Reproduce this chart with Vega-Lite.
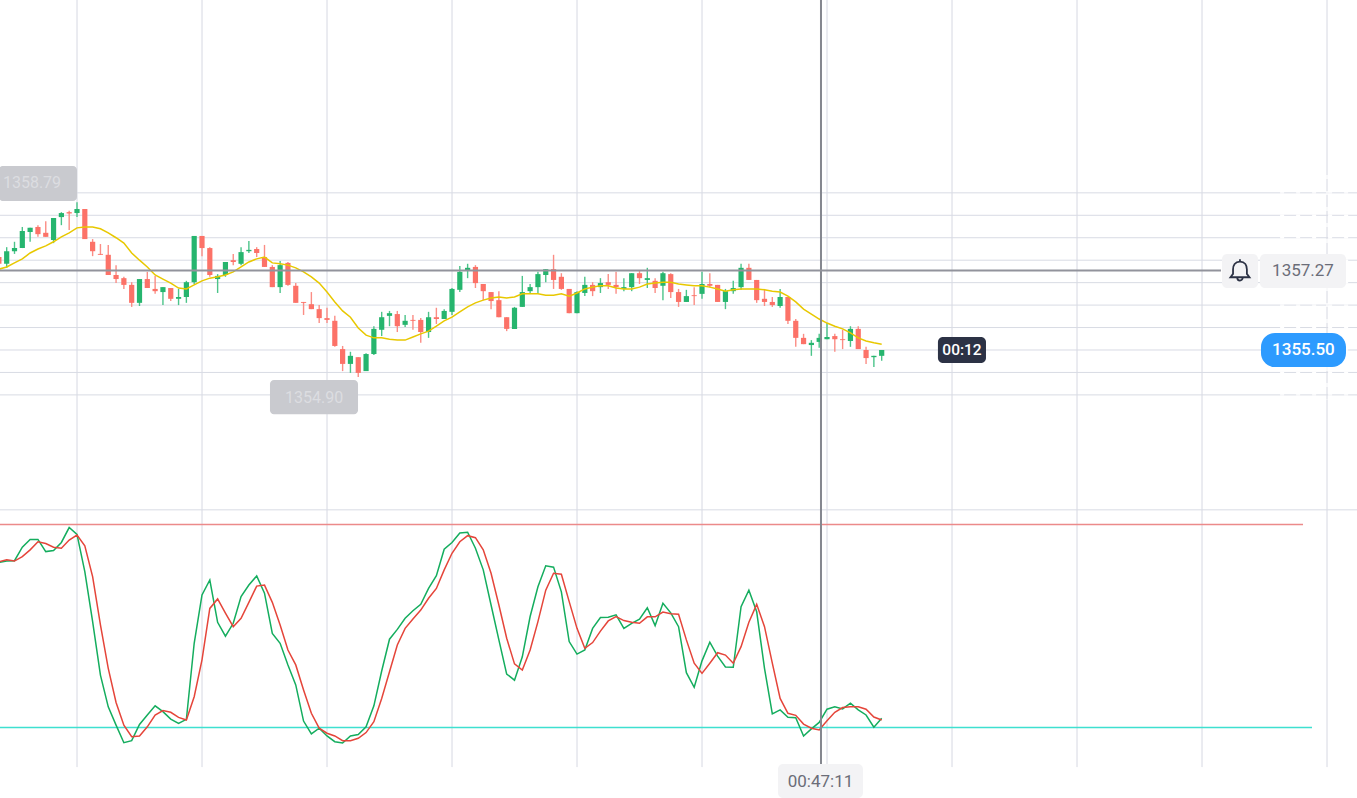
{"$schema":"https://vega.github.io/schema/vega-lite/v6.json","width":1357,"height":798,"autosize":{"type":"none"},"padding":0,"background":"#ffffff","config":{"view":{"stroke":null},"axis":{"disable":true},"scale":{"continuousPadding":0}},"datasets":{"candles":[
{"i":-10,"o":1357.57,"h":1357.6,"l":1357.39,"c":1357.42,"ma":1357.30,"k":68.8,"d":69},
{"i":-9,"o":1357.42,"h":1357.79,"l":1357.33,"c":1357.70,"ma":1357.35,"k":69.2,"d":69.6},
{"i":-8,"o":1357.70,"h":1357.91,"l":1357.64,"c":1357.77,"ma":1357.44,"k":69.3,"d":69.2},
{"i":-7,"o":1357.77,"h":1358.24,"l":1357.77,"c":1358.15,"ma":1357.53,"k":73.3,"d":70.5},
{"i":-6,"o":1358.13,"h":1358.22,"l":1357.91,"c":1358.22,"ma":1357.66,"k":75.6,"d":72.5},
{"i":-5,"o":1358.24,"h":1358.28,"l":1358.02,"c":1358.08,"ma":1357.75,"k":75.6,"d":74.9},
{"i":-4,"o":1358.11,"h":1358.37,"l":1358.02,"c":1358.02,"ma":1357.82,"k":72,"d":74.4},
{"i":-3,"o":1357.95,"h":1358.44,"l":1357.88,"c":1358.44,"ma":1357.91,"k":72.3,"d":73.3},
{"i":-2,"o":1358.46,"h":1358.57,"l":1358.28,"c":1358.55,"ma":1358.02,"k":74.7,"d":73},
{"i":-1,"o":1358.57,"h":1358.60,"l":1358.17,"c":1358.54,"ma":1358.11,"k":79.1,"d":75.4},
{"i":0,"o":1358.55,"h":1358.79,"l":1358.46,"c":1358.64,"ma":1358.22,"k":77.1,"d":76.9},
{"i":1,"o":1358.64,"h":1358.64,"l":1357.97,"c":1357.97,"ma":1358.24,"k":66.1,"d":73.7},
{"i":2,"o":1357.91,"h":1357.97,"l":1357.59,"c":1357.70,"ma":1358.24,"k":51.3,"d":64.6},
{"i":3,"o":1357.64,"h":1357.86,"l":1357.62,"c":1357.62,"ma":1358.20,"k":35.5,"d":50.3},
{"i":4,"o":1357.62,"h":1357.84,"l":1357.17,"c":1357.17,"ma":1358.11,"k":26.1,"d":37.5},
{"i":5,"o":1357.17,"h":1357.39,"l":1356.99,"c":1357.08,"ma":1358.00,"k":20.7,"d":27.4},
{"i":6,"o":1357.10,"h":1357.13,"l":1356.86,"c":1356.95,"ma":1357.88,"k":15.5,"d":20.7},
{"i":7,"o":1356.95,"h":1357.01,"l":1356.46,"c":1356.55,"ma":1357.66,"k":16.1,"d":17.3},
{"i":8,"o":1356.55,"h":1357.08,"l":1356.48,"c":1357.08,"ma":1357.50,"k":20.9,"d":17.5},
{"i":9,"o":1357.08,"h":1357.24,"l":1356.88,"c":1356.88,"ma":1357.35,"k":23.7,"d":20.2},
{"i":10,"o":1356.86,"h":1357.15,"l":1356.75,"c":1356.81,"ma":1357.17,"k":26.4,"d":23.7},
{"i":11,"o":1356.79,"h":1356.90,"l":1356.50,"c":1356.90,"ma":1357.08,"k":24.7,"d":25},
{"i":12,"o":1356.88,"h":1356.88,"l":1356.59,"c":1356.64,"ma":1356.99,"k":22.5,"d":24.5},
{"i":13,"o":1356.64,"h":1356.86,"l":1356.50,"c":1356.68,"ma":1356.88,"k":21.2,"d":23},
{"i":14,"o":1356.68,"h":1357.04,"l":1356.55,"c":1357.01,"ma":1356.86,"k":22.4,"d":22.2},
{"i":15,"o":1357.01,"h":1358.04,"l":1356.97,"c":1358.04,"ma":1356.95,"k":44.9,"d":29.1},
{"i":16,"o":1358.04,"h":1358.04,"l":1357.59,"c":1357.77,"ma":1357.04,"k":59.2,"d":40},
{"i":17,"o":1357.77,"h":1357.79,"l":1357.13,"c":1357.17,"ma":1357.10,"k":63.6,"d":55.2},
{"i":18,"o":1357.08,"h":1357.19,"l":1356.77,"c":1357.15,"ma":1357.13,"k":51.1,"d":58},
{"i":19,"o":1357.17,"h":1357.46,"l":1357.13,"c":1357.46,"ma":1357.17,"k":47,"d":53.8},
{"i":20,"o":1357.50,"h":1357.64,"l":1357.39,"c":1357.46,"ma":1357.24,"k":50.8,"d":49.8},
{"i":21,"o":1357.42,"h":1357.79,"l":1357.39,"c":1357.68,"ma":1357.35,"k":58.7,"d":52.3},
{"i":22,"o":1357.70,"h":1357.93,"l":1357.66,"c":1357.73,"ma":1357.46,"k":62.1,"d":57},
{"i":23,"o":1357.75,"h":1357.79,"l":1357.57,"c":1357.66,"ma":1357.53,"k":64.8,"d":61.8},
{"i":24,"o":1357.57,"h":1357.84,"l":1357.35,"c":1357.35,"ma":1357.57,"k":59.7,"d":62.1},
{"i":25,"o":1357.35,"h":1357.39,"l":1356.90,"c":1356.90,"ma":1357.44,"k":47.8,"d":57},
{"i":26,"o":1356.90,"h":1357.48,"l":1356.77,"c":1357.39,"ma":1357.42,"k":44.9,"d":50.3},
{"i":27,"o":1357.44,"h":1357.46,"l":1356.93,"c":1356.95,"ma":1357.39,"k":38.5,"d":42.9},
{"i":28,"o":1356.93,"h":1356.99,"l":1356.55,"c":1356.55,"ma":1357.33,"k":32.6,"d":38.5},
{"i":29,"o":1356.57,"h":1356.57,"l":1356.28,"c":1356.55,"ma":1357.24,"k":21.9,"d":31.1},
{"i":30,"o":1356.52,"h":1356.79,"l":1356.41,"c":1356.41,"ma":1357.13,"k":18.1,"d":24.2},
{"i":31,"o":1356.41,"h":1356.50,"l":1356.10,"c":1356.21,"ma":1356.99,"k":19.8,"d":19.8},
{"i":32,"o":1356.21,"h":1356.44,"l":1356.10,"c":1356.17,"ma":1356.79,"k":17.5,"d":18.3},
{"i":33,"o":1356.15,"h":1356.26,"l":1355.57,"c":1355.59,"ma":1356.57,"k":15.8,"d":17.5},
{"i":34,"o":1355.52,"h":1355.59,"l":1355.03,"c":1355.19,"ma":1356.37,"k":15.4,"d":16.1},
{"i":35,"o":1355.19,"h":1355.46,"l":1354.99,"c":1355.37,"ma":1356.23,"k":17.5,"d":16.1},
{"i":36,"o":1355.34,"h":1355.34,"l":1354.90,"c":1354.99,"ma":1355.99,"k":17.9,"d":16.8},
{"i":37,"o":1355.03,"h":1355.43,"l":1355.03,"c":1355.41,"ma":1355.83,"k":20.2,"d":18.5},
{"i":38,"o":1355.41,"h":1356.03,"l":1355.39,"c":1355.97,"ma":1355.77,"k":26.4,"d":21.7},
{"i":39,"o":1355.95,"h":1356.35,"l":1355.81,"c":1356.23,"ma":1355.77,"k":36.7,"d":28.6},
{"i":40,"o":1356.26,"h":1356.37,"l":1356.03,"c":1356.32,"ma":1355.74,"k":46.1,"d":36.5},
{"i":41,"o":1356.30,"h":1356.37,"l":1355.90,"c":1356.03,"ma":1355.72,"k":49,"d":44.4},
{"i":42,"o":1356.06,"h":1356.28,"l":1356.01,"c":1356.15,"ma":1355.72,"k":52.3,"d":49.3},
{"i":43,"o":1356.17,"h":1356.28,"l":1355.95,"c":1356.15,"ma":1355.79,"k":54.5,"d":52.1},
{"i":44,"o":1356.17,"h":1356.21,"l":1355.66,"c":1355.90,"ma":1355.86,"k":56.4,"d":54.7},
{"i":45,"o":1355.90,"h":1356.35,"l":1355.77,"c":1356.23,"ma":1355.92,"k":61.1,"d":58.2},
{"i":46,"o":1356.23,"h":1356.44,"l":1356.08,"c":1356.19,"ma":1356.03,"k":64.9,"d":61.1},
{"i":47,"o":1356.19,"h":1356.41,"l":1356.19,"c":1356.37,"ma":1356.15,"k":72.7,"d":66.6},
{"i":48,"o":1356.35,"h":1356.88,"l":1356.28,"c":1356.86,"ma":1356.23,"k":74.7,"d":71.5},
{"i":49,"o":1356.84,"h":1357.37,"l":1356.79,"c":1357.24,"ma":1356.35,"k":77.5,"d":74.9},
{"i":50,"o":1357.26,"h":1357.42,"l":1357.10,"c":1357.33,"ma":1356.46,"k":77.7,"d":76.7},
{"i":51,"o":1357.35,"h":1357.39,"l":1356.88,"c":1356.99,"ma":1356.55,"k":73,"d":76.1},
{"i":52,"o":1356.97,"h":1356.97,"l":1356.61,"c":1356.81,"ma":1356.61,"k":66.6,"d":72.5},
{"i":53,"o":1356.79,"h":1356.79,"l":1356.41,"c":1356.59,"ma":1356.66,"k":56.2,"d":65.6},
{"i":54,"o":1356.61,"h":1356.81,"l":1356.23,"c":1356.23,"ma":1356.68,"k":45.9,"d":56.2},
{"i":55,"o":1356.23,"h":1356.23,"l":1355.92,"c":1355.97,"ma":1356.66,"k":35.8,"d":46.4},
{"i":56,"o":1355.97,"h":1356.46,"l":1355.97,"c":1356.44,"ma":1356.68,"k":34,"d":38.8},
{"i":57,"o":1356.46,"h":1357.15,"l":1356.46,"c":1356.79,"ma":1356.75,"k":40.9,"d":37},
{"i":58,"o":1356.81,"h":1356.97,"l":1356.75,"c":1356.90,"ma":1356.75,"k":52.8,"d":42.9},
{"i":59,"o":1356.90,"h":1357.24,"l":1356.75,"c":1357.19,"ma":1356.75,"k":61.6,"d":51.3},
{"i":60,"o":1357.17,"h":1357.30,"l":1357.01,"c":1357.30,"ma":1356.72,"k":67.8,"d":60.6},
{"i":61,"o":1357.30,"h":1357.62,"l":1356.86,"c":1357.06,"ma":1356.72,"k":67.4,"d":65.6},
{"i":62,"o":1357.13,"h":1357.21,"l":1356.84,"c":1356.86,"ma":1356.75,"k":60.1,"d":65.3},
{"i":63,"o":1356.86,"h":1356.86,"l":1356.32,"c":1356.32,"ma":1356.70,"k":45.4,"d":57.2},
{"i":64,"o":1356.32,"h":1356.81,"l":1356.32,"c":1356.79,"ma":1356.77,"k":41.7,"d":49.3},
{"i":65,"o":1356.77,"h":1357.13,"l":1356.70,"c":1356.95,"ma":1356.86,"k":42.9,"d":43.4},
{"i":66,"o":1356.95,"h":1357.01,"l":1356.70,"c":1356.81,"ma":1356.90,"k":49.3,"d":45.1},
{"i":67,"o":1356.90,"h":1357.10,"l":1356.77,"c":1356.99,"ma":1356.93,"k":52.5,"d":48.5},
{"i":68,"o":1357.01,"h":1357.19,"l":1356.86,"c":1356.95,"ma":1356.93,"k":52.6,"d":51.5},
{"i":69,"o":1356.95,"h":1357.24,"l":1356.75,"c":1356.90,"ma":1356.88,"k":53.3,"d":52.8},
{"i":70,"o":1356.86,"h":1357.10,"l":1356.81,"c":1356.90,"ma":1356.86,"k":49.3,"d":51.6},
{"i":71,"o":1356.90,"h":1357.21,"l":1356.81,"c":1357.21,"ma":1356.86,"k":50.8,"d":51.1},
{"i":72,"o":1357.21,"h":1357.28,"l":1356.97,"c":1357.10,"ma":1356.90,"k":52,"d":50.8},
{"i":73,"o":1357.06,"h":1357.33,"l":1356.88,"c":1357.10,"ma":1356.97,"k":55.4,"d":52.7},
{"i":74,"o":1357.04,"h":1357.10,"l":1356.77,"c":1356.88,"ma":1356.99,"k":50.1,"d":52.7},
{"i":75,"o":1356.93,"h":1357.24,"l":1356.61,"c":1357.21,"ma":1357.01,"k":56.7,"d":54.1},
{"i":76,"o":1357.19,"h":1357.21,"l":1356.66,"c":1356.79,"ma":1357.01,"k":53.9,"d":53.6},
{"i":77,"o":1356.79,"h":1356.86,"l":1356.46,"c":1356.57,"ma":1356.97,"k":49.8,"d":53.5},
{"i":78,"o":1356.57,"h":1356.84,"l":1356.57,"c":1356.70,"ma":1356.95,"k":36.2,"d":45.9},
{"i":79,"o":1356.72,"h":1356.90,"l":1356.50,"c":1356.70,"ma":1356.93,"k":31.9,"d":39},
{"i":80,"o":1356.75,"h":1357.24,"l":1356.64,"c":1356.97,"ma":1356.93,"k":39.7,"d":36},
{"i":81,"o":1356.97,"h":1357.21,"l":1356.90,"c":1356.93,"ma":1356.90,"k":45.2,"d":39},
{"i":82,"o":1356.95,"h":1356.95,"l":1356.57,"c":1356.57,"ma":1356.86,"k":41.1,"d":42.1},
{"i":83,"o":1356.57,"h":1356.86,"l":1356.41,"c":1356.81,"ma":1356.81,"k":37.9,"d":41.4},
{"i":84,"o":1356.81,"h":1357.04,"l":1356.75,"c":1356.88,"ma":1356.84,"k":37.8,"d":39},
{"i":85,"o":1356.90,"h":1357.42,"l":1356.84,"c":1357.33,"ma":1356.86,"k":55.7,"d":43.9},
{"i":86,"o":1357.33,"h":1357.42,"l":1357.06,"c":1357.06,"ma":1356.86,"k":60.6,"d":51.1},
{"i":87,"o":1357.06,"h":1357.06,"l":1356.55,"c":1356.61,"ma":1356.86,"k":54.2,"d":56.4},
{"i":88,"o":1356.64,"h":1356.86,"l":1356.48,"c":1356.57,"ma":1356.84,"k":37.5,"d":49.8},
{"i":89,"o":1356.57,"h":1356.68,"l":1356.46,"c":1356.50,"ma":1356.81,"k":24,"d":39},
{"i":90,"o":1356.48,"h":1356.86,"l":1356.44,"c":1356.68,"ma":1356.79,"k":25.2,"d":28.6},
{"i":91,"o":1356.68,"h":1356.68,"l":1356.08,"c":1356.15,"ma":1356.70,"k":23,"d":24.2},
{"i":92,"o":1356.15,"h":1356.19,"l":1355.57,"c":1355.77,"ma":1356.57,"k":22.9,"d":23.6},
{"i":93,"o":1355.77,"h":1355.86,"l":1355.63,"c":1355.63,"ma":1356.41,"k":17.5,"d":21},
{"i":94,"o":1355.61,"h":1355.72,"l":1355.37,"c":1355.66,"ma":1356.30,"k":19.6,"d":19.8},
{"i":95,"o":1355.68,"h":1355.86,"l":1355.55,"c":1355.77,"ma":1356.19,"k":21.5,"d":19.3},
{"i":96,"o":1355.74,"h":1356.10,"l":1355.74,"c":1355.79,"ma":1356.10,"k":25.4,"d":22},
{"i":97,"o":1355.81,"h":1355.86,"l":1355.46,"c":1355.74,"ma":1356.03,"k":26.1,"d":24.5},
{"i":98,"o":1355.74,"h":1355.95,"l":1355.52,"c":1355.72,"ma":1355.97,"k":25.5,"d":25.9},
{"i":99,"o":1355.70,"h":1356.03,"l":1355.57,"c":1355.97,"ma":1355.88,"k":27.2,"d":26.1},
{"i":100,"o":1355.97,"h":1356.03,"l":1355.52,"c":1355.52,"ma":1355.77,"k":25.2,"d":26.1},
{"i":101,"o":1355.50,"h":1355.57,"l":1355.19,"c":1355.32,"ma":1355.70,"k":23.7,"d":25.4},
{"i":102,"o":1355.34,"h":1355.37,"l":1355.12,"c":1355.37,"ma":1355.66,"k":20.1,"d":23.1},
{"i":103,"o":1355.37,"h":1355.50,"l":1355.26,"c":1355.50,"ma":1355.63,"k":22.7,"d":22.2}
],"gridX":[{"i":0},{"i":16},{"i":32},{"i":48},{"i":64},{"i":80},{"i":96},{"i":112},{"i":128},{"i":144},{"i":160}],
"gridY":[{"p":1354.5},{"p":1355},{"p":1355.5},{"p":1356},{"p":1356.5},{"p":1357},{"p":1357.5},{"p":1358},{"p":1358.5},{"p":1359}]},
"resolve":{"scale":{"y":"independent"}},
"layer":[
{"data":{"name":"gridX"},"mark":{"type":"rule","color":"#d6d8e2","strokeWidth":1},"encoding":{"x":{"field":"i","type":"quantitative","scale":{"domain":[-9.856,163.84],"nice":false,"zero":false}},"y":{"datum":1363.295,"type":"quantitative","scale":{"domain":[1345.522,1363.295],"nice":false,"zero":false}},"y2":{"datum":1346.21}}},
{"data":{"name":"gridY"},"mark":{"type":"rule","color":"#d8dbe4","strokeWidth":1},"encoding":{"y":{"field":"p","type":"quantitative","scale":{"domain":[1345.522,1363.295],"nice":false,"zero":false}}}},
{"data":{"name":"gridY"},"mark":{"type":"rule","color":"#ffffff","strokeWidth":1.4,"strokeDash":[4,12]},"encoding":{"x":{"datum":154,"type":"quantitative","scale":{"domain":[-9.856,163.84],"nice":false,"zero":false}},"x2":{"datum":163.84},"y":{"field":"p","type":"quantitative","scale":{"domain":[1345.522,1363.295],"nice":false,"zero":false}}}},
{"data":{"values":[{"t":160}]},"mark":{"type":"rule","color":"#ffffff","strokeWidth":1.4,"strokeDash":[4,12]},"encoding":{"x":{"field":"t","type":"quantitative","scale":{"domain":[-9.856,163.84],"nice":false,"zero":false}},"y":{"datum":1359.4,"type":"quantitative","scale":{"domain":[1345.522,1363.295],"nice":false,"zero":false}},"y2":{"datum":1354.4}}},
{"data":{"values":[{"p":1351.94}]},"mark":{"type":"rule","color":"#d8dbe4","strokeWidth":1},"encoding":{"y":{"field":"p","type":"quantitative","scale":{"domain":[1345.522,1363.295],"nice":false,"zero":false}}}},
{"data":{"values":[{"s":80}]},"mark":{"type":"rule","color":"#ec8a8a","strokeWidth":1.3},"encoding":{"x":{"datum":-9.856,"type":"quantitative","scale":{"domain":[-9.856,163.84],"nice":false,"zero":false}},"x2":{"datum":156.93},"y":{"field":"s","type":"quantitative","scale":{"domain":[-0.84,235.04],"nice":false,"zero":false}}}},
{"data":{"values":[{"s":20}]},"mark":{"type":"rule","color":"#3fe0d0","strokeWidth":1.5},"encoding":{"x":{"datum":-9.856,"type":"quantitative","scale":{"domain":[-9.856,163.84],"nice":false,"zero":false}},"x2":{"datum":158.08},"y":{"field":"s","type":"quantitative","scale":{"domain":[-0.84,235.04],"nice":false,"zero":false}}}},
{"data":{"name":"candles"},"mark":{"type":"rule","strokeWidth":1.4},"encoding":{"x":{"field":"i","type":"quantitative","scale":{"domain":[-9.856,163.84],"nice":false,"zero":false}},"y":{"field":"h","type":"quantitative","scale":{"domain":[1345.522,1363.295],"nice":false,"zero":false}},"y2":{"field":"l"},"color":{"condition":{"test":"datum.c>=datum.o","value":"#4cc48a"},"value":"#fb8d85"}}},
{"data":{"name":"candles"},"mark":{"type":"bar","size":5.2},"encoding":{"x":{"field":"i","type":"quantitative","scale":{"domain":[-9.856,163.84],"nice":false,"zero":false}},"y":{"field":"o","type":"quantitative","scale":{"domain":[1345.522,1363.295],"nice":false,"zero":false}},"y2":{"field":"c"},"color":{"condition":{"test":"datum.c>=datum.o","value":"#26b56e"},"value":"#fc7268"}}},
{"data":{"name":"candles"},"mark":{"type":"line","color":"#e8c800","strokeWidth":1.5},"encoding":{"x":{"field":"i","type":"quantitative","scale":{"domain":[-9.856,163.84],"nice":false,"zero":false}},"y":{"field":"ma","type":"quantitative","scale":{"domain":[1345.522,1363.295],"nice":false,"zero":false}}}},
{"data":{"name":"candles"},"mark":{"type":"line","color":"#14ad5e","strokeWidth":1.5},"encoding":{"x":{"field":"i","type":"quantitative","scale":{"domain":[-9.856,163.84],"nice":false,"zero":false}},"y":{"field":"k","type":"quantitative","scale":{"domain":[-0.84,235.04],"nice":false,"zero":false}}}},
{"data":{"name":"candles"},"mark":{"type":"line","color":"#e5453a","strokeWidth":1.5},"encoding":{"x":{"field":"i","type":"quantitative","scale":{"domain":[-9.856,163.84],"nice":false,"zero":false}},"y":{"field":"d","type":"quantitative","scale":{"domain":[-0.84,235.04],"nice":false,"zero":false}}}},
{"data":{"values":[{"t":95.23}]},"mark":{"type":"rule","color":"#85878f","strokeWidth":2},"encoding":{"x":{"field":"t","type":"quantitative","scale":{"domain":[-9.856,163.84],"nice":false,"zero":false}},"y":{"datum":1363.295,"type":"quantitative","scale":{"domain":[1345.522,1363.295],"nice":false,"zero":false}},"y2":{"datum":1346.21}}},
{"data":{"values":[{"p":1357.27}]},"mark":{"type":"rule","color":"#92939c","strokeWidth":2},"encoding":{"x":{"datum":-9.856,"type":"quantitative","scale":{"domain":[-9.856,163.84],"nice":false,"zero":false}},"x2":{"datum":146.43},"y":{"field":"p","type":"quantitative","scale":{"domain":[1345.522,1363.295],"nice":false,"zero":false}}}},
{"data":{"values":[{"a":-10,"b":0,"t":1359.6,"u":1358.82},{"a":24.7,"b":35.97,"t":1354.83,"u":1354.07}]},"mark":{"type":"rect","color":"#c9cacf","cornerRadius":4},"encoding":{"x":{"field":"a","type":"quantitative","scale":{"domain":[-9.856,163.84],"nice":false,"zero":false}},"x2":{"field":"b"},"y":{"field":"t","type":"quantitative","scale":{"domain":[1345.522,1363.295],"nice":false,"zero":false}},"y2":{"field":"u"}}},
{"data":{"values":[{"a":146.56,"b":151.17,"t":1357.64,"u":1356.88},{"a":151.42,"b":162.43,"t":1357.64,"u":1356.88},{"a":89.73,"b":100.6,"t":1346.28,"u":1345.52}]},"mark":{"type":"rect","color":"#f3f3f5","cornerRadius":5},"encoding":{"x":{"field":"a","type":"quantitative","scale":{"domain":[-9.856,163.84],"nice":false,"zero":false}},"x2":{"field":"b"},"y":{"field":"t","type":"quantitative","scale":{"domain":[1345.522,1363.295],"nice":false,"zero":false}},"y2":{"field":"u"}}},
{"data":{"values":[{"a":151.55,"b":162.43,"t":1355.88,"u":1355.12}]},"mark":{"type":"rect","color":"#2d9bff","cornerRadius":14},"encoding":{"x":{"field":"a","type":"quantitative","scale":{"domain":[-9.856,163.84],"nice":false,"zero":false}},"x2":{"field":"b"},"y":{"field":"t","type":"quantitative","scale":{"domain":[1345.522,1363.295],"nice":false,"zero":false}},"y2":{"field":"u"}}},
{"data":{"values":[{"a":110.2,"b":116.35,"t":1355.79,"u":1355.21}]},"mark":{"type":"rect","color":"#2c3245","cornerRadius":5},"encoding":{"x":{"field":"a","type":"quantitative","scale":{"domain":[-9.856,163.84],"nice":false,"zero":false}},"x2":{"field":"b"},"y":{"field":"t","type":"quantitative","scale":{"domain":[1345.522,1363.295],"nice":false,"zero":false}},"y2":{"field":"u"}}},
{"data":{"values":[{"x":148.86,"p":1357.27}]},"mark":{"type":"point","shape":"M0,-1 L0,-0.8 C-0.45,-0.8 -0.62,-0.45 -0.62,-0.1 L-0.62,0.3 L-0.85,0.6 L0.85,0.6 L0.62,0.3 L0.62,-0.1 C0.62,-0.45 0.45,-0.8 0,-0.8 M-0.25,0.6 C-0.25,1 0.25,1 0.25,0.6","size":500,"filled":false,"stroke":"#2c3245","strokeWidth":1.8,"opacity":1},"encoding":{"x":{"field":"x","type":"quantitative","scale":{"domain":[-9.856,163.84],"nice":false,"zero":false}},"y":{"field":"p","type":"quantitative","scale":{"domain":[1345.522,1363.295],"nice":false,"zero":false}}}},
{"data":{"values":[{"x":-5.76,"p":1359.22,"label":"1358.79"},{"x":30.34,"p":1354.43,"label":"1354.90"}]},"mark":{"type":"text","font":"Roboto","fontSize":16,"color":"#dcdde1"},"encoding":{"x":{"field":"x","type":"quantitative","scale":{"domain":[-9.856,163.84],"nice":false,"zero":false}},"y":{"field":"p","type":"quantitative","scale":{"domain":[1345.522,1363.295],"nice":false,"zero":false}},"text":{"field":"label"}}},
{"data":{"values":[{"x":156.93,"p":1357.25,"label":"1357.27"},{"x":95.17,"p":1345.88,"label":"00:47:11"}]},"mark":{"type":"text","font":"Roboto","fontSize":17,"color":"#6b6d78"},"encoding":{"x":{"field":"x","type":"quantitative","scale":{"domain":[-9.856,163.84],"nice":false,"zero":false}},"y":{"field":"p","type":"quantitative","scale":{"domain":[1345.522,1363.295],"nice":false,"zero":false}},"text":{"field":"label"}}},
{"data":{"values":[{"x":156.98,"p":1355.5,"label":"1355.50"}]},"mark":{"type":"text","font":"Roboto","fontSize":17,"fontWeight":500,"color":"#ffffff"},"encoding":{"x":{"field":"x","type":"quantitative","scale":{"domain":[-9.856,163.84],"nice":false,"zero":false}},"y":{"field":"p","type":"quantitative","scale":{"domain":[1345.522,1363.295],"nice":false,"zero":false}},"text":{"field":"label"}}},
{"data":{"values":[{"x":113.28,"p":1355.5,"label":"00:12"}]},"mark":{"type":"text","font":"Roboto","fontSize":15.5,"fontWeight":500,"color":"#ffffff"},"encoding":{"x":{"field":"x","type":"quantitative","scale":{"domain":[-9.856,163.84],"nice":false,"zero":false}},"y":{"field":"p","type":"quantitative","scale":{"domain":[1345.522,1363.295],"nice":false,"zero":false}},"text":{"field":"label"}}}
]}
